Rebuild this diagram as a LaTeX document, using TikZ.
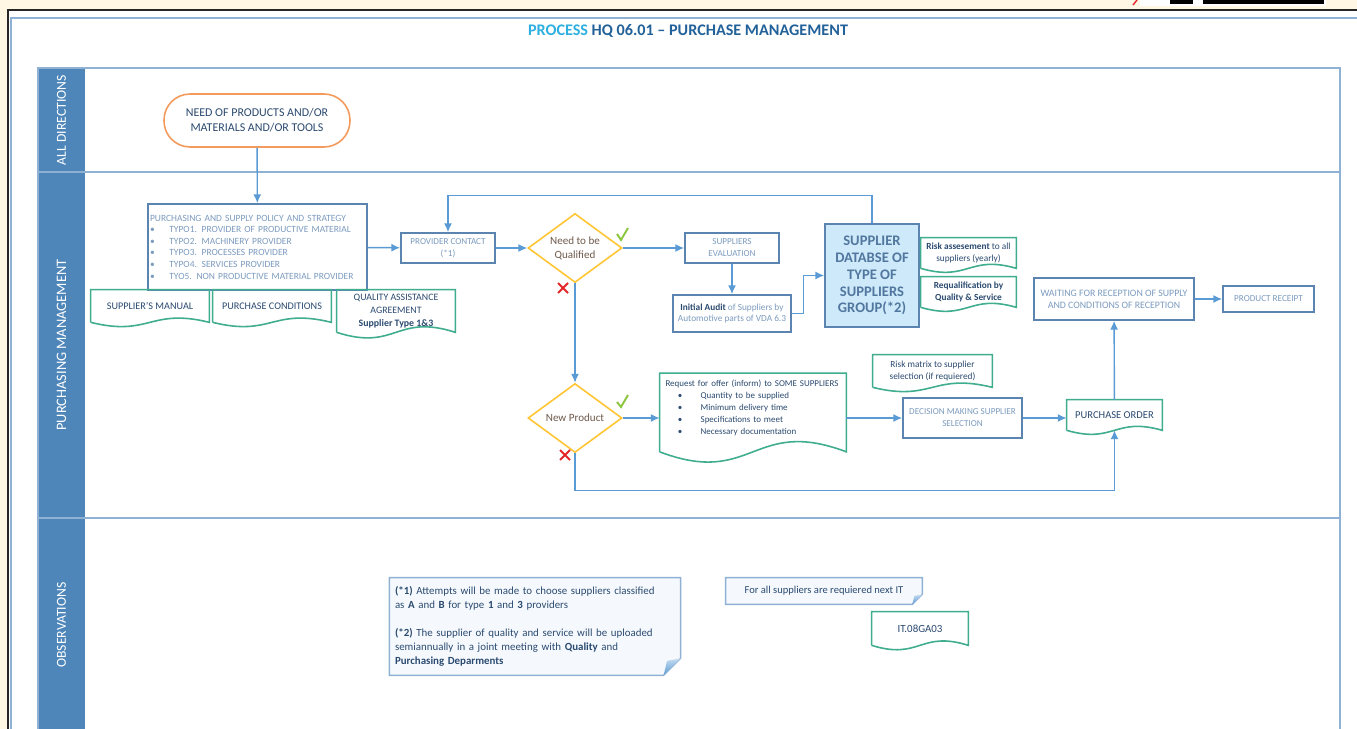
\documentclass[tikz,border=0pt]{standalone}
\usepackage{fontspec}
\setmainfont{Carlito}
\usepackage{xcolor}
\usetikzlibrary{arrows.meta,calc,positioning,shapes.geometric}
\definecolor{crema}{HTML}{FFF7E3}
\definecolor{carril}{HTML}{4E86BA}
\definecolor{borde}{HTML}{8FB1D4}
\definecolor{linea}{HTML}{5B9BD5}
\definecolor{caja}{HTML}{5B84B1}
\definecolor{textocaja}{HTML}{7C9BBF}
\definecolor{marino}{HTML}{2B4A70}
\definecolor{verdedoc}{HTML}{3FAD8E}
\definecolor{oro}{HTML}{FFC533}
\definecolor{naranja}{HTML}{F39A5C}
\definecolor{cafe}{HTML}{6E5A4C}
\definecolor{celeste}{HTML}{CDE9FA}
\definecolor{titulo}{HTML}{236299}
\definecolor{cian}{HTML}{2DB0E0}
\definecolor{notafondo}{HTML}{F5F9FD}
\definecolor{verdecheck}{HTML}{8CC63F}
\definecolor{rojo}{HTML}{E52628}
\tikzset{
  proceso/.style={draw=caja,line width=0.9pt,text=textocaja,align=center,inner sep=1pt,font=\fontsize{5.2}{6.8}\selectfont},
  documento/.style={text=marino,align=center,inner sep=1pt,font=\fontsize{5.8}{7.4}\selectfont},
  onda/.style={draw=verdedoc,line width=0.9pt},
  decision/.style={diamond,draw=oro,line width=0.9pt,aspect=1.36,inner sep=0pt,text=cafe,align=center,font=\fontsize{6.3}{8}\selectfont,minimum width=1.88cm,minimum height=1.38cm},
  inicio/.style={draw=naranja,line width=0.9pt,rounded corners=0.52cm,text=marino,align=center,font=\fontsize{6.8}{8.5}\selectfont},
  nota/.style={fill=notafondo,text=marino,align=left,inner sep=3pt,font=\fontsize{6.2}{8}\selectfont},
  flecha/.style={-{Latex[length=5pt,width=4.5pt]},draw=linea,line width=0.8pt},
  visto/.style={draw=verdecheck,line width=1.1pt},
  cruz/.style={draw=rojo,line width=1.1pt}
}

\begin{document}
\begin{tikzpicture}[x=0.02cm,y=-0.02cm]
\useasboundingbox (0,0) rectangle (1357,729);
% marco
\fill[crema] (0,0) rectangle (1357,729);
\fill[white] (8,10) rectangle (1357,729);
\draw[black!85,line width=0.9pt] (1357,10) -- (8,10) -- (8,729);
\draw[borde,line width=0.6pt] (1357,18) -- (11,18) -- (11,729);
\draw[rojo,line width=0.8pt] (1133,5) -- (1137,0);
\fill[white] (1140,0) rectangle (1326,6);
\fill[black] (1170,0) rectangle (1193,4);
\fill[black] (1203,0) rectangle (1324,4);
\node[font=\fontsize{9.2}{10}\selectfont\bfseries,text=titulo] (titulo) at (688,31) {\textcolor{cian}{PROCESS} HQ 06.01 – PURCHASE MANAGEMENT};

% carriles
\fill[carril] (38,68) rectangle (85,729);
\draw[borde,line width=0.8pt] (38,729) -- (38,68) -- (1340,68) -- (1340,729);
\draw[borde,line width=1.3pt] (38,172) -- (1340,172);
\draw[borde,line width=1.3pt] (38,518) -- (1340,518);
\node[rotate=90,text=white,font=\fontsize{7.8}{9}\selectfont] (lDir) at (61.5,120) {ALL DIRECTIONS};
\node[rotate=90,text=white,font=\fontsize{8.2}{9}\selectfont] (lCompras) at (61.5,345) {PURCHASING MANAGEMENT};
\node[rotate=90,text=white,font=\fontsize{7.8}{9}\selectfont] (lObs) at (61.5,625) {OBSERVATIONS};

% nodos
\node[inicio,minimum width=3.72cm,minimum height=1.06cm] (necesidad) at (257,120.5) {NEED OF PRODUCTS AND/OR\\MATERIALS AND/OR TOOLS};
\node[proceso,align=left,text width=4.3cm,minimum width=4.38cm,minimum height=1.72cm,font=\fontsize{5.4}{6.6}\selectfont] (politica) at (257.5,247) {PURCHASING AND SUPPLY POLICY AND STRATEGY\\
\makebox[11pt][l]{\textbullet}TYPO1. PROVIDER OF PRODUCTIVE MATERIAL\\
\makebox[11pt][l]{\textbullet}TYPO2. MACHINERY PROVIDER\\
\makebox[11pt][l]{\textbullet}TYPO3. PROCESSES PROVIDER\\
\makebox[11pt][l]{\textbullet}TYPO4. SERVICES PROVIDER\\
\makebox[11pt][l]{\textbullet}TYO5. NON PRODUCTIVE MATERIAL PROVIDER};
\node[documento,minimum width=2.36cm,minimum height=0.64cm] (manual) at (150,306) {SUPPLIER'S MANUAL};
\node[documento,minimum width=2.36cm,minimum height=0.64cm] (condiciones) at (272,306) {PURCHASE CONDITIONS};
\node[documento,minimum width=2.36cm,minimum height=0.84cm,font=\fontsize{5.6}{7.4}\selectfont] (qaa) at (396,311) {QUALITY ASSISTANCE\\AGREEMENT\\\textbf{Supplier Type 1\&3}};
\node[proceso,minimum width=1.88cm,minimum height=0.6cm] (contacto) at (448,248) {PROVIDER CONTACT\\(*1)};
\node[decision] (calificar) at (575,248) {Need to be\\Qualified};
\node[proceso,minimum width=1.88cm,minimum height=0.6cm] (evaluacion) at (732,248) {SUPPLIERS\\EVALUATION};
\node[proceso,minimum width=2.36cm,minimum height=0.74cm,font=\fontsize{5.3}{6.8}\selectfont] (auditoria) at (732,313.5) {\textbf{\textcolor{marino}{Initial Audit}} of Suppliers by\\Automotive parts of VDA 6.3};
\node[proceso,fill=celeste,text=caja!90!black,minimum width=1.88cm,minimum height=2.06cm,font=\fontsize{8.3}{9.6}\selectfont\bfseries] (base) at (872,275.5) {SUPPLIER\\DATABSE OF\\TYPE OF\\SUPPLIERS\\GROUP(*2)};
\node[documento,minimum width=1.9cm,minimum height=0.6cm,font=\fontsize{5.3}{6.8}\selectfont] (riesgo) at (968.5,253) {\textbf{Risk assesement} to all\\suppliers (yearly)};
\node[documento,minimum width=1.9cm,minimum height=0.6cm,font=\fontsize{5.3}{6.8}\selectfont\bfseries] (recal) at (968.5,292) {Requalification by\\Quality \& Service};
\node[proceso,minimum width=3.2cm,minimum height=0.84cm,font=\fontsize{5.6}{6.8}\selectfont] (espera) at (1114,299) {WAITING FOR RECEPTION OF SUPPLY\\AND CONDITIONS OF RECEPTION};
\node[proceso,minimum width=1.82cm,minimum height=0.52cm] (recepcion) at (1268.5,299) {PRODUCT RECEIPT};
\node[decision] (nuevo) at (575,418) {New Product};
\node[documento,align=left,inner xsep=3pt,text width=3.5cm,minimum width=3.72cm,minimum height=1.56cm,font=\fontsize{5.1}{6.8}\selectfont] (solicitud) at (753,412.5) {Request for offer (inform) to SOME SUPPLIERS\\
\hspace*{7pt}\makebox[13pt][l]{\textbullet}Quantity to be supplied\\
\hspace*{7pt}\makebox[13pt][l]{\textbullet}Minimum delivery time\\
\hspace*{7pt}\makebox[13pt][l]{\textbullet}Specifications to meet\\
\hspace*{7pt}\makebox[13pt][l]{\textbullet}Necessary documentation\par\vspace{5pt}};
\node[documento,minimum width=2.38cm,minimum height=0.64cm,font=\fontsize{5.3}{6.8}\selectfont] (matriz) at (932.5,371) {Risk matrix to supplier\\selection (if requiered)};
\node[proceso,minimum width=2.38cm,minimum height=0.8cm] (seleccion) at (962.5,418) {DECISION MAKING SUPPLIER\\SELECTION};
\node[documento,minimum width=1.9cm,minimum height=0.6cm,font=\fontsize{6}{7.2}\selectfont] (orden) at (1114.5,415) {PURCHASE ORDER};
\node[nota,text width=5.6cm,minimum height=1.94cm] (obs1) at (535,626.5) {\textbf{(*1)} Attempts will be made to choose suppliers classified\\
as \textbf{A} and \textbf{B} for type \textbf{1} and \textbf{3} providers\\[8pt]
\textbf{(*2)} The supplier of quality and service will be uploaded\\
semiannually in a joint meeting with \textbf{Quality} and\\
\textbf{Purchasing Deparments}};
\node[nota,align=center,minimum width=3.92cm,minimum height=0.52cm,font=\fontsize{6}{8}\selectfont] (obs2) at (824,591) {For all suppliers are requiered next IT};
\node[documento,minimum width=1.92cm,minimum height=0.66cm,font=\fontsize{6.2}{7}\selectfont] (it) at (920,628.5) {IT.08GA03};

% contornos de documento
\foreach \d in {manual,condiciones,qaa,riesgo,recal,solicitud,matriz,orden,it}
  \draw[onda] (\d.south west) -- (\d.north west) -- (\d.north east) -- (\d.south east)
    .. controls ($(\d.south)!.45!(\d.north)$) and ($(\d.south)!-.45!(\d.north)$) .. (\d.south west);

% notas con esquina doblada
\foreach \n/\f in {obs1/17,obs2/10} {
  \fill[white] (\n.south east) -- ($(\n.south east)+(0,-\f)$) -- ($(\n.south east)+(-\f,0)$) -- cycle;
  \draw[borde,line width=0.8pt] (\n.north west) -- (\n.north east) -- ($(\n.south east)+(0,-\f)$) -- ($(\n.south east)+(-\f,0)$) -- (\n.south west) -- cycle;
  \shade[top color=linea!35,bottom color=linea] ($(\n.south east)+(0,-\f)$) -- ($(\n.south east)+(-\f,0)$) -- ($(\n.south east)+(-.8*\f,-.85*\f)$) -- cycle;
}

% flechas
\draw[flecha] (necesidad) -- (politica);
\draw[flecha] (politica) -- (contacto);
\draw[flecha] (contacto) -- (calificar);
\draw[flecha] (calificar) -- (evaluacion);
\draw[flecha] (evaluacion) -- (auditoria);
\draw[flecha] (auditoria.east) -- ++(12,0) |- (base.west);
\draw[flecha] (base.north) -- ++(0,-28) -| (contacto.north);
\draw[flecha] (calificar) -- (nuevo);
\draw[flecha] (nuevo) -- (solicitud.west |- nuevo);
\draw[flecha] (solicitud.east |- seleccion) -- (seleccion);
\draw[flecha] (seleccion) -- (seleccion -| orden.west);
\draw[flecha] (nuevo.south) -- ++(0,37) -| (orden.south);
\draw[flecha] (orden) -- (espera);
\draw[flecha] (espera) -- (recepcion);

% marcas si / no
\draw[visto] (617,234) -- (621,240) -- (628,228);
\draw[cruz] (558,283) -- (568,293) (558,293) -- (568,283);
\draw[visto] (617,402) -- (621,407) -- (628,395);
\draw[cruz] (560,450) -- (570,460) (560,460) -- (570,450);
\end{tikzpicture}
\end{document}
